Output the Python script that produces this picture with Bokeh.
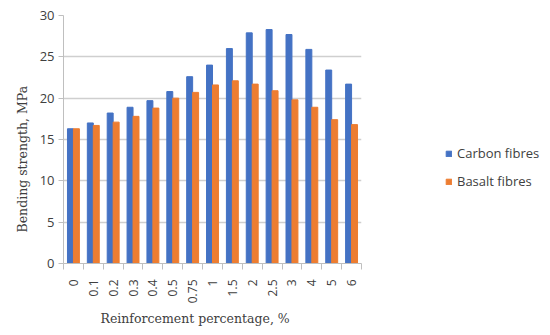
import numpy as np
from bokeh.plotting import figure
from bokeh.models import ColumnDataSource, FixedTicker, Range1d, Legend, LegendItem, Title
from bokeh.embed import file_html
from bokeh.resources import INLINE

categories = ["0", "0.1", "0.2", "0.3", "0.4", "0.5", "0.75", "1", "1.5", "2", "2.5", "3", "4", "5", "6"]
carbon = [16.3, 17.0, 18.2, 18.9, 19.7, 20.8, 22.6, 24.0, 26.0, 27.9, 28.3, 27.7, 25.9, 23.4, 21.7]
basalt = [16.3, 16.7, 17.1, 17.8, 18.8, 20.0, 20.7, 21.6, 22.1, 21.7, 20.9, 19.8, 18.9, 17.4, 16.8]
y_ticks = [0, 5, 10, 15, 20, 25, 30]
x_title = "Reinforcement percentage, %"
y_title = "Bending strength, MPa"

n = len(categories)
centers = np.arange(n) + 0.5
src = ColumnDataSource(dict(
    xc=centers - 0.15, xb=centers + 0.15, carbon=carbon, basalt=basalt))

p = figure(width=534, height=319, output_backend="svg", toolbar_location=None,
           x_range=Range1d(0, n), y_range=Range1d(0, 30),
           min_border_left=63, min_border_top=15, min_border_bottom=64, min_border_right=170)
p.frame_width = 298
p.frame_height = 248
p.outline_line_color = None
p.background_fill_color = "white"

rc = p.vbar(x="xc", top="carbon", width=0.3, source=src, color="#4472C4")
rb = p.vbar(x="xb", top="basalt", width=0.3, source=src, color="#ED7D31")

# x axis
xa = p.xaxis[0]
xa.ticker = FixedTicker(ticks=list(centers), minor_ticks=list(range(n + 1)))
xa.major_label_overrides = {float(c): lab for c, lab in zip(centers, categories)}
xa.major_tick_line_color = None
xa.minor_tick_in = 0
xa.minor_tick_out = 6
xa.minor_tick_line_color = "#bfbfbf"
xa.axis_line_color = "#bfbfbf"
xa.major_label_orientation = np.pi / 2
xa.major_label_text_font = "Open Sans"
xa.major_label_text_font_size = "12px"
xa.major_label_text_color = "#404040"
xa.major_label_standoff = 10

# y axis
ya = p.yaxis[0]
ya.ticker = FixedTicker(ticks=y_ticks)
ya.major_tick_in = 0
ya.major_tick_out = 5
ya.major_tick_line_color = "#bfbfbf"
ya.minor_tick_line_color = None
ya.axis_line_color = "#bfbfbf"
ya.major_label_text_font = "Open Sans"
ya.major_label_text_font_size = "13px"
ya.major_label_text_color = "#404040"
ya.major_label_standoff = 4

# axis titles (offset like the reference)
tx = Title(text=x_title, align="left", offset=37, standoff=4,
           text_font="DejaVu Serif", text_font_style="normal",
           text_font_size="12.5px", text_color="#404040")
p.add_layout(tx, "below")
ty = Title(text=y_title, align="left", offset=31, standoff=14,
           text_font="DejaVu Serif", text_font_style="normal",
           text_font_size="12.5px", text_color="#404040")
p.add_layout(ty, "left")

p.xgrid.grid_line_color = None
p.ygrid.ticker = FixedTicker(ticks=y_ticks)
p.ygrid.grid_line_color = "#cfcfcf"
p.ygrid.grid_line_width = 1.5

legend = Legend(items=[LegendItem(label="Carbon fibres", renderers=[rc]),
                       LegendItem(label="Basalt fibres", renderers=[rb])],
                location=(84, 72), orientation="vertical")
legend.glyph_width = 7
legend.glyph_height = 7
legend.label_height = 20
legend.spacing = 8
legend.label_standoff = 5
legend.padding = 0
legend.margin = 0
legend.border_line_color = None
legend.background_fill_alpha = 0
legend.label_text_font = "Open Sans"
legend.label_text_font_size = "13px"
legend.label_text_color = "#404040"
p.add_layout(legend, "right")

open("out.html", "w").write(file_html(p, INLINE))
